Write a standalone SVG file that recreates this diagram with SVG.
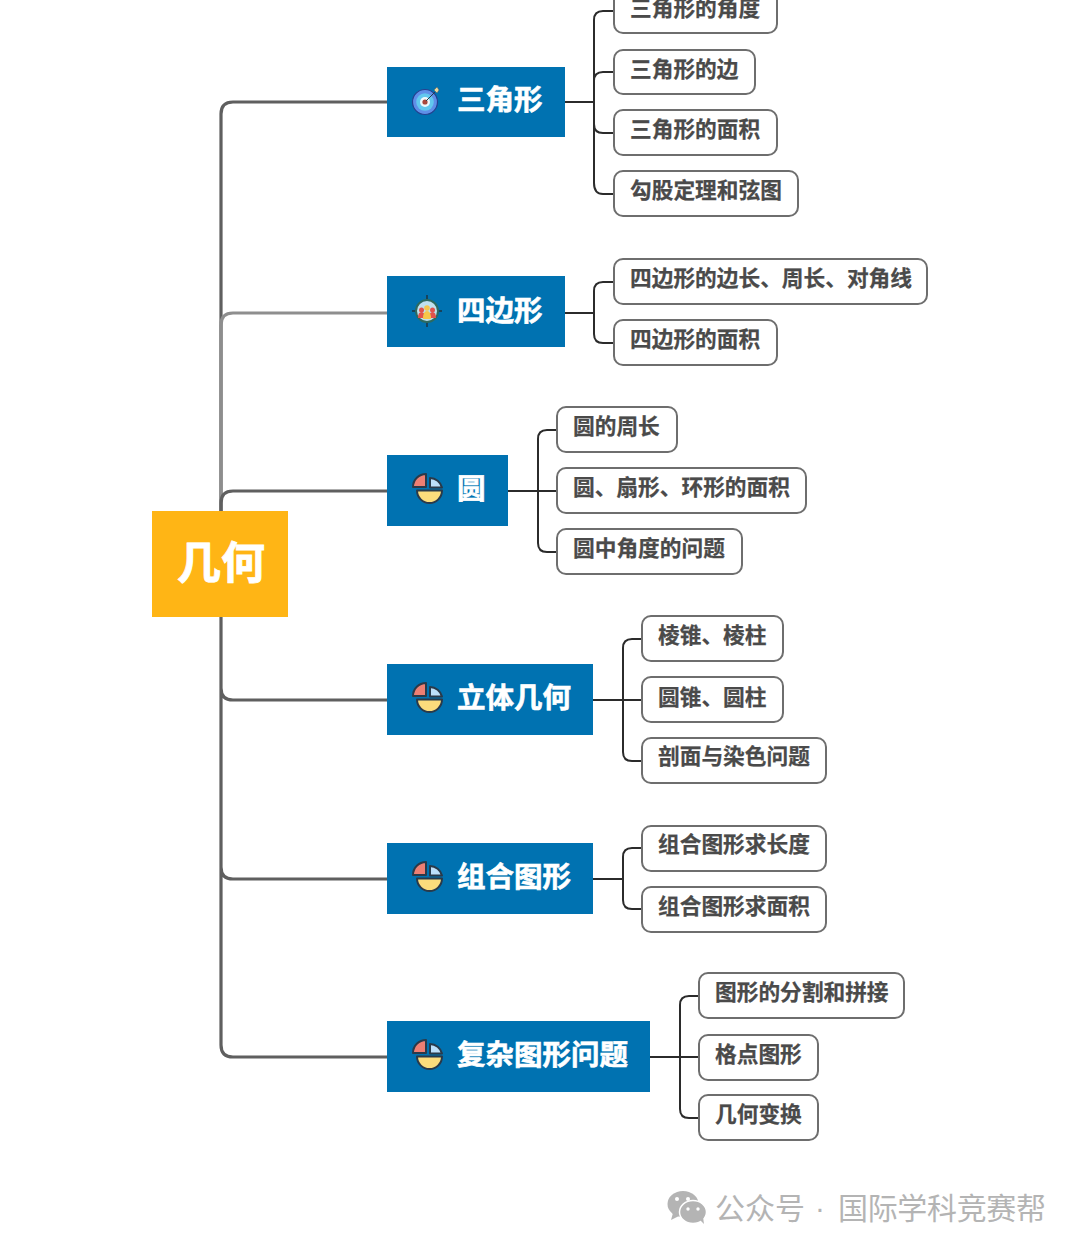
<svg xmlns="http://www.w3.org/2000/svg" width="1080" height="1251" viewBox="0 0 1080 1251">
<style>
text{font-family:"Noto Sans CJK SC","Liberation Sans",sans-serif;font-weight:700}
.root{fill:#ffb515}.rt{fill:#fff;font-size:44px;stroke:#fff;stroke-width:.8}
.main{fill:#0072b1}.mt{fill:#fff;font-size:28.5px;stroke:#fff;stroke-width:.6}
.sub{fill:#fff;stroke:#6e6e6e;stroke-width:2}.st{fill:#4a4a4a;font-size:21.7px;stroke:#4a4a4a;stroke-width:.25}
.trunk{fill:none;stroke:#5f5f5f;stroke-width:3.2}
.trunk2{fill:none;stroke:#8e8e8e;stroke-width:3.2}
.br{fill:none;stroke:#2b2b2b;stroke-width:2}
.wm{fill:#b4b4b4;font-size:29.5px;font-weight:400}
.dot{font-family:"Liberation Sans",sans-serif}
</style>
<defs>
<g id="pie">
<path d="M-2,-2V-15A13,13 0 0 0 -15,-2Z" fill="#ee7f73" stroke="#2a3a4a" stroke-width="2" stroke-linejoin="round"/>
<path d="M2,-1.500V-11A12.500,12.500 0 0 1 14,-1.500Z" fill="#bcdffa" stroke="#2a3a4a" stroke-width="2" stroke-linejoin="round"/>
<path d="M-11,1.500H14A12.500,12.500 0 0 1 -11,1.500Z" fill="#fbdc7c" stroke="#2a3a4a" stroke-width="2" stroke-linejoin="round"/>
</g>
</defs>
<rect width="1080" height="1251" fill="#fff"/>
<g id="connectors">
<path class="trunk" d="M221,511V114Q221,102 233,102H387"/>
<path class="trunk2" d="M221,511V325Q221,313 233,313H387"/>
<path class="trunk" d="M221,511V503Q221,491 233,491H387"/>
<path class="trunk" d="M221,617V1045Q221,1057 233,1057H387M221,688Q221,700 233,700H387M221,867Q221,879 233,879H387"/>
<path class="br" d="M565,102H594M613,11H603Q594,11 594,20V183Q594,194 603,194H613M613,72H603Q594,72 594,81M613,133H603Q594,133 594,124"/>
<path class="br" d="M565,313H594M613,282H603Q594,282 594,291V334Q594,343 603,343H613"/>
<path class="br" d="M508,491H557M557,430H547Q538,430 538,439V543Q538,552 547,552H557"/>
<path class="br" d="M593,700H642M642,639H632Q623,639 623,648V752Q623,761 632,761H642"/>
<path class="br" d="M593,879H623M642,848H632Q623,848 623,857V900Q623,909 632,909H642"/>
<path class="br" d="M650,1057H699M699,996H689Q680,996 680,1005V1109Q680,1118 689,1118H699"/>
</g>
<g id="root"><rect class="root" x="152" y="511" width="136" height="106"/><text class="rt" x="221" y="579" text-anchor="middle">几何</text></g>
<g id="m1"><rect class="main" x="387" y="67" width="178" height="70"/>
<circle cx="425" cy="102" r="12.500" fill="#5f8fe8" stroke="#24408f" stroke-width="1.200"/><circle cx="425" cy="102" r="8.800" fill="#62c8ee"/><circle cx="425" cy="102" r="5" fill="#eef8fb"/><circle cx="425" cy="102" r="2.600" fill="#a8483c"/><path d="M426,101L435,92" stroke="#2a3a4a" stroke-width="1"/><path d="M434,90l3,-3l2,3l-2,3z" fill="#e8d8a0" stroke="#555" stroke-width=".5"/>
<text class="mt" x="457" y="110">三角形</text></g>
<g id="m2"><rect class="main" x="387" y="276" width="178" height="71"/>
<path d="M427,295V327M412,311H442" stroke="#1f3440" stroke-width="1.500"/><circle cx="427" cy="311" r="11" fill="#bfe0ee" stroke="#2c6a60" stroke-width="2"/><circle cx="421.500" cy="310" r="2.500" fill="#e0524c"/><circle cx="432.500" cy="310" r="2.500" fill="#e0524c"/><path d="M418,318q0,-6 3.500,-6q3.500,0 3.500,6zM429,318q0,-6 3.500,-6q3.500,0 3.500,6z" fill="#e0524c"/><circle cx="427" cy="308" r="2.800" fill="#f6c64a"/><path d="M423,319q0,-8 4,-8q4,0 4,8z" fill="#f6c64a"/>
<text class="mt" x="457" y="321">四边形</text></g>
<g id="m3"><rect class="main" x="387" y="455" width="121" height="71"/><use href="#pie" x="428" y="489"/><text class="mt" x="457" y="499">圆</text></g>
<g id="m4"><rect class="main" x="387" y="664" width="206" height="71"/><use href="#pie" x="428" y="698"/><text class="mt" x="457" y="708">立体几何</text></g>
<g id="m5"><rect class="main" x="387" y="843" width="206" height="71"/><use href="#pie" x="428" y="877"/><text class="mt" x="457" y="887">组合图形</text></g>
<g id="m6"><rect class="main" x="387" y="1021" width="263" height="71"/><use href="#pie" x="428" y="1055"/><text class="mt" x="457" y="1065">复杂图形问题</text></g>
<g id="s1"><rect class="sub" x="614" y="-11" width="163" height="44" rx="9"/><text class="st" x="630" y="16">三角形的角度</text></g>
<g id="s2"><rect class="sub" x="614" y="50" width="141" height="44" rx="9"/><text class="st" x="630" y="77">三角形的边</text></g>
<g id="s3"><rect class="sub" x="614" y="110" width="163" height="45" rx="9"/><text class="st" x="630" y="137">三角形的面积</text></g>
<g id="s4"><rect class="sub" x="614" y="171" width="184" height="45" rx="9"/><text class="st" x="630" y="198">勾股定理和弦图</text></g>
<g id="s5"><rect class="sub" x="614" y="259" width="313" height="45" rx="9"/><text class="st" x="630" y="286">四边形的边长、周长、对角线</text></g>
<g id="s6"><rect class="sub" x="614" y="320" width="163" height="45" rx="9"/><text class="st" x="630" y="347">四边形的面积</text></g>
<g id="s7"><rect class="sub" x="557" y="407" width="120" height="45" rx="9"/><text class="st" x="573" y="434">圆的周长</text></g>
<g id="s8"><rect class="sub" x="557" y="468" width="249" height="45" rx="9"/><text class="st" x="573" y="495">圆、扇形、环形的面积</text></g>
<g id="s9"><rect class="sub" x="557" y="529" width="185" height="45" rx="9"/><text class="st" x="573" y="556">圆中角度的问题</text></g>
<g id="s10"><rect class="sub" x="642" y="616" width="141" height="45" rx="9"/><text class="st" x="658" y="643">棱锥、棱柱</text></g>
<g id="s11"><rect class="sub" x="642" y="677" width="141" height="45" rx="9"/><text class="st" x="658" y="705">圆锥、圆柱</text></g>
<g id="s12"><rect class="sub" x="642" y="738" width="184" height="45" rx="9"/><text class="st" x="658" y="764">剖面与染色问题</text></g>
<g id="s13"><rect class="sub" x="642" y="826" width="184" height="45" rx="9"/><text class="st" x="658" y="852">组合图形求长度</text></g>
<g id="s14"><rect class="sub" x="642" y="887" width="184" height="45" rx="9"/><text class="st" x="658" y="914">组合图形求面积</text></g>
<g id="s15"><rect class="sub" x="699" y="973" width="205" height="45" rx="9"/><text class="st" x="715" y="1000">图形的分割和拼接</text></g>
<g id="s16"><rect class="sub" x="699" y="1035" width="119" height="45" rx="9"/><text class="st" x="715" y="1062">格点图形</text></g>
<g id="s17"><rect class="sub" x="699" y="1095" width="119" height="45" rx="9"/><text class="st" x="715" y="1122">几何变换</text></g>
<g id="watermark">
<ellipse cx="683" cy="1204" rx="15.500" ry="13" fill="#b4b4b4"/><path d="M673,1213l-2,7l8,-4z" fill="#b4b4b4"/>
<ellipse cx="693" cy="1212" rx="13.500" ry="11.500" fill="#b4b4b4" stroke="#fff" stroke-width="1.500"/><path d="M700,1220l4,4l-1,-7z" fill="#b4b4b4"/>
<circle cx="677" cy="1199" r="2" fill="#fff"/><circle cx="688" cy="1199" r="2" fill="#fff"/><circle cx="688" cy="1209" r="1.700" fill="#fff"/><circle cx="698" cy="1209" r="1.700" fill="#fff"/>
<text class="wm" x="715" y="1219" font-size="30" style="font-size:30px">公众号</text><text class="wm dot" x="815" y="1218">·</text><text class="wm" x="838" y="1219" style="font-size:30px" textLength="208">国际学科竞赛帮</text>
</g>
</svg>
